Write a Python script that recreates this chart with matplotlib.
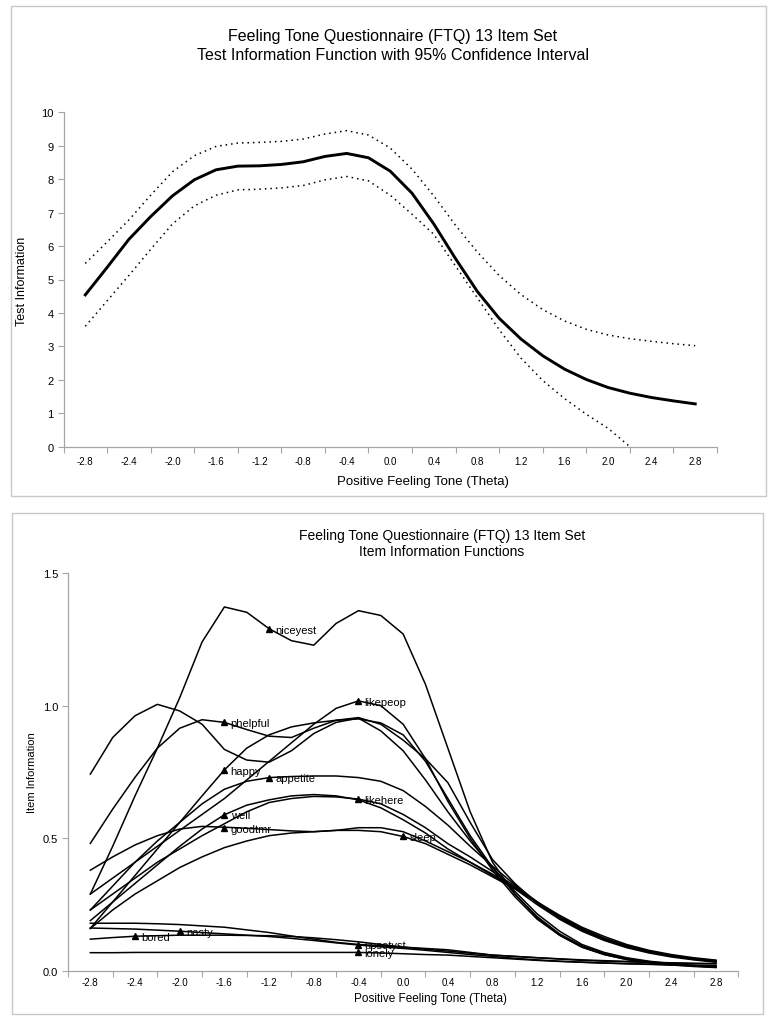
import numpy as np
import matplotlib
matplotlib.use("Agg")
import matplotlib.pyplot as plt
from matplotlib.patches import Rectangle

plt.rcParams['font.family'] = ['Liberation Sans', 'DejaVu Sans']

# ---- data ----
theta = [-2.8, -2.6, -2.4, -2.2, -2.0, -1.8, -1.6, -1.4, -1.2, -1.0, -0.8, -0.6, -0.4, -0.2, 0.0,
         0.2, 0.4, 0.6, 0.8, 1.0, 1.2, 1.4, 1.6, 1.8, 2.0, 2.2, 2.4, 2.6, 2.8]

test_info = [4.54, 5.36, 6.2, 6.88, 7.5, 7.98, 8.28, 8.39, 8.4, 8.44, 8.52, 8.68, 8.77, 8.64, 8.24,
             7.58, 6.66, 5.62, 4.64, 3.84, 3.22, 2.72, 2.32, 2.01, 1.77, 1.6, 1.47, 1.37, 1.28]
ci_upper = [5.48, 6.12, 6.78, 7.52, 8.22, 8.7, 8.98, 9.08, 9.1, 9.13, 9.2, 9.35, 9.45, 9.32, 8.93,
            8.3, 7.5, 6.62, 5.82, 5.12, 4.55, 4.1, 3.76, 3.51, 3.34, 3.23, 3.15, 3.08, 3.02]
ci_lower = [3.6, 4.36, 5.12, 5.9, 6.66, 7.2, 7.52, 7.68, 7.7, 7.74, 7.81, 7.98, 8.08, 7.95, 7.52,
            6.95, 6.35, 5.4, 4.45, 3.5, 2.65, 1.98, 1.44, 0.97, 0.55, 0.0, np.nan, np.nan, np.nan]

item_info = {
    'niceyest': [0.29, 0.47, 0.66, 0.84, 1.03, 1.24, 1.372, 1.352, 1.29, 1.245, 1.228, 1.31, 1.358, 1.34, 1.27,
                 1.08, 0.84, 0.6, 0.41, 0.29, 0.2, 0.135, 0.09, 0.062, 0.044, 0.033, 0.025, 0.019, 0.014],
    'unlabeled': [0.742, 0.88, 0.962, 1.005, 0.98, 0.93, 0.835, 0.795, 0.787, 0.83, 0.895, 0.937, 0.953, 0.905, 0.83,
                  0.72, 0.6, 0.49, 0.39, 0.3, 0.215, 0.15, 0.1, 0.07, 0.05, 0.037, 0.028, 0.021, 0.016],
    'phelpful': [0.481, 0.61, 0.73, 0.84, 0.915, 0.947, 0.937, 0.91, 0.885, 0.88, 0.915, 0.945, 0.955, 0.93, 0.87,
                 0.8, 0.71, 0.56, 0.42, 0.33, 0.255, 0.2, 0.155, 0.12, 0.092, 0.072, 0.057, 0.047, 0.039],
    'happy': [0.161, 0.26, 0.36, 0.46, 0.56, 0.66, 0.758, 0.84, 0.89, 0.92, 0.935, 0.945, 0.95, 0.935, 0.89,
              0.79, 0.65, 0.51, 0.39, 0.29, 0.205, 0.14, 0.095, 0.066, 0.047, 0.035, 0.026, 0.02, 0.015],
    'likepeop': [0.29, 0.35, 0.41, 0.47, 0.53, 0.59, 0.65, 0.72, 0.79, 0.86, 0.93, 0.99, 1.018, 1.0, 0.93,
                 0.8, 0.64, 0.5, 0.38, 0.28, 0.195, 0.135, 0.09, 0.062, 0.043, 0.031, 0.023, 0.017, 0.013],
    'appetite': [0.23, 0.32, 0.41, 0.49, 0.56, 0.63, 0.685, 0.715, 0.729, 0.733, 0.735, 0.735, 0.729, 0.715, 0.68,
                 0.62, 0.55, 0.47, 0.395, 0.325, 0.26, 0.2, 0.155, 0.12, 0.092, 0.071, 0.056, 0.045, 0.037],
    'likehere': [0.23, 0.29, 0.35, 0.41, 0.46, 0.51, 0.555, 0.6, 0.635, 0.65, 0.658, 0.656, 0.648, 0.63, 0.59,
                 0.54, 0.48, 0.43, 0.375, 0.32, 0.26, 0.205, 0.16, 0.122, 0.094, 0.072, 0.056, 0.044, 0.035],
    'well': [0.19, 0.26, 0.33, 0.4, 0.47, 0.535, 0.589, 0.625, 0.645, 0.66, 0.665, 0.66, 0.645, 0.615, 0.57,
             0.52, 0.46, 0.41, 0.36, 0.31, 0.25, 0.195, 0.15, 0.115, 0.088, 0.068, 0.053, 0.042, 0.033],
    'goodtmr': [0.38, 0.43, 0.475, 0.51, 0.535, 0.545, 0.542, 0.538, 0.533, 0.528, 0.525, 0.53, 0.54, 0.54, 0.525,
                0.49, 0.45, 0.41, 0.365, 0.315, 0.26, 0.205, 0.16, 0.124, 0.096, 0.075, 0.059, 0.047, 0.038],
    'sleep': [0.16, 0.23, 0.29, 0.34, 0.39, 0.43, 0.465, 0.49, 0.51, 0.52, 0.525, 0.53, 0.53, 0.525, 0.507,
              0.48, 0.44, 0.4, 0.355, 0.31, 0.26, 0.21, 0.165, 0.13, 0.1, 0.078, 0.062, 0.05, 0.041],
    'upsetyst': [0.18, 0.18, 0.18, 0.178, 0.175, 0.17, 0.165, 0.155, 0.145, 0.132, 0.12, 0.108, 0.1, 0.095, 0.09,
                 0.085, 0.08, 0.07, 0.06, 0.055, 0.05, 0.045, 0.04, 0.037, 0.035, 0.032, 0.03, 0.028, 0.027],
    'nasty': [0.162, 0.16, 0.158, 0.154, 0.15, 0.145, 0.14, 0.135, 0.13, 0.123, 0.115, 0.106, 0.098, 0.091, 0.085,
              0.078, 0.07, 0.062, 0.055, 0.048, 0.042, 0.037, 0.033, 0.03, 0.027, 0.025, 0.022, 0.02, 0.019],
    'bored': [0.12, 0.126, 0.131, 0.133, 0.135, 0.135, 0.135, 0.134, 0.133, 0.13, 0.125, 0.118, 0.11, 0.1, 0.09,
              0.082, 0.075, 0.067, 0.06, 0.055, 0.05, 0.046, 0.042, 0.039, 0.036, 0.033, 0.031, 0.029, 0.028],
    'lonely': [0.069, 0.069, 0.07, 0.07, 0.07, 0.07, 0.07, 0.07, 0.07, 0.07, 0.07, 0.07, 0.07, 0.068, 0.065,
               0.062, 0.06, 0.055, 0.05, 0.045, 0.04, 0.036, 0.033, 0.03, 0.028, 0.026, 0.024, 0.022, 0.02],
}

label_names = ['niceyest', 'likepeop', 'phelpful', 'happy', 'appetite', 'likehere', 'well',
               'goodtmr', 'sleep', 'bored', 'nasty', 'upsetyst', 'lonely']
label_x = [-1.2, -0.4, -1.6, -1.6, -1.2, -0.4, -1.6, -1.6, 0.0, -2.4, -2.0, -0.4, -0.4]
label_y = [1.288, 1.018, 0.937, 0.758, 0.729, 0.648, 0.589, 0.539, 0.507, 0.131, 0.149, 0.099, 0.070]

title1 = 'Feeling Tone Questionnaire (FTQ) 13 Item Set'
title_top = 'Test Information Function with 95% Confidence Interval'
title_bot = 'Item Information Functions'
xlab = 'Positive Feeling Tone (Theta)'

# ---- layout helpers (pixels) ----
W, H = 774, 1020
def box(l, t, r, b):
    return [l / W, 1 - b / H, (r - l) / W, (b - t) / H]

def fx(x):
    return x / W

def fy(y):
    return 1 - y / H

grey = '#a6a6a6'
fig = plt.figure(figsize=(W / 100, H / 100), dpi=100)

# panel frames
for l, t, r, b in [(11, 7, 766, 497), (12, 514, 763, 1015)]:
    fig.patches.append(Rectangle((fx(l), fy(b)), (r - l) / W, (b - t) / H,
                                 transform=fig.transFigure, fill=False,
                                 edgecolor='#c8c8c8', lw=1.0))

tick_pos = np.round(np.arange(-3.0, 3.01, 0.4), 1)
lab_pos = np.round(np.arange(-2.8, 2.81, 0.4), 1)

def style_axis(ax, pad_x):
    for s in ['top', 'right']:
        ax.spines[s].set_visible(False)
    for s in ['left', 'bottom']:
        ax.spines[s].set_color(grey)
        ax.spines[s].set_linewidth(0.9)
    ax.set_xlim(-3.0, 3.0)
    ax.set_xticks(tick_pos)
    ax.set_xticklabels([])
    ax.set_xticks(lab_pos, minor=True)
    ax.set_xticklabels([f'{v + 0:.1f}' for v in lab_pos], minor=True, fontsize=7)
    ax.tick_params(axis='x', which='major', length=4, color=grey, direction='out')
    ax.tick_params(axis='x', which='minor', length=0, pad=pad_x)
    ax.tick_params(axis='y', length=4, color=grey, direction='out', labelsize=8, pad=3)

# ---- top panel ----
ax1 = fig.add_axes(box(63.5, 113.3, 717, 447.7))
ax1.plot(theta, test_info, color='black', lw=2.1, solid_joinstyle='round')
ax1.plot(theta, ci_upper, color='black', lw=1.1, linestyle=(0, (1, 2.6)))
ax1.plot(theta, ci_lower, color='black', lw=1.1, linestyle=(0, (1, 2.6)))
ax1.set_ylim(0, 10)
ax1.set_yticks(range(0, 11))
style_axis(ax1, 6.5)
fig.text(fx(393), fy(37), title1, ha='center', va='center', fontsize=11.5)
fig.text(fx(393), fy(55), title_top, ha='center', va='center', fontsize=11.5)
fig.text(fx(423), fy(482), xlab, ha='center', va='center', fontsize=9.5)
fig.text(fx(22), fy(281), 'Test Information', ha='center', va='center', rotation=90, fontsize=9)

# ---- bottom panel ----
ax2 = fig.add_axes(box(68, 574, 738.3, 972))
for name, vals in item_info.items():
    ax2.plot(theta, vals, color='black', lw=1.1, solid_joinstyle='round')
ax2.plot(label_x, label_y, linestyle='none', marker='^', color='black', markersize=5)
for name, x, y in zip(label_names, label_x, label_y):
    ax2.annotate(name, (x, y), xytext=(4.5, -0.5), textcoords='offset points',
                 ha='left', va='center', fontsize=8)
ax2.set_ylim(0, 1.5)
ax2.set_yticks([0.0, 0.5, 1.0, 1.5])
ax2.set_yticklabels(['0.0', '0.5', '1.0', '1.5'])
style_axis(ax2, 4)
fig.text(fx(442), fy(536), title1, ha='center', va='center', fontsize=10)
fig.text(fx(442), fy(552), title_bot, ha='center', va='center', fontsize=10)
fig.text(fx(431), fy(999), xlab, ha='center', va='center', fontsize=8.5)
fig.text(fx(32), fy(773), 'Item Information', ha='center', va='center', rotation=90, fontsize=8)

fig.savefig('out.png', dpi=100)
